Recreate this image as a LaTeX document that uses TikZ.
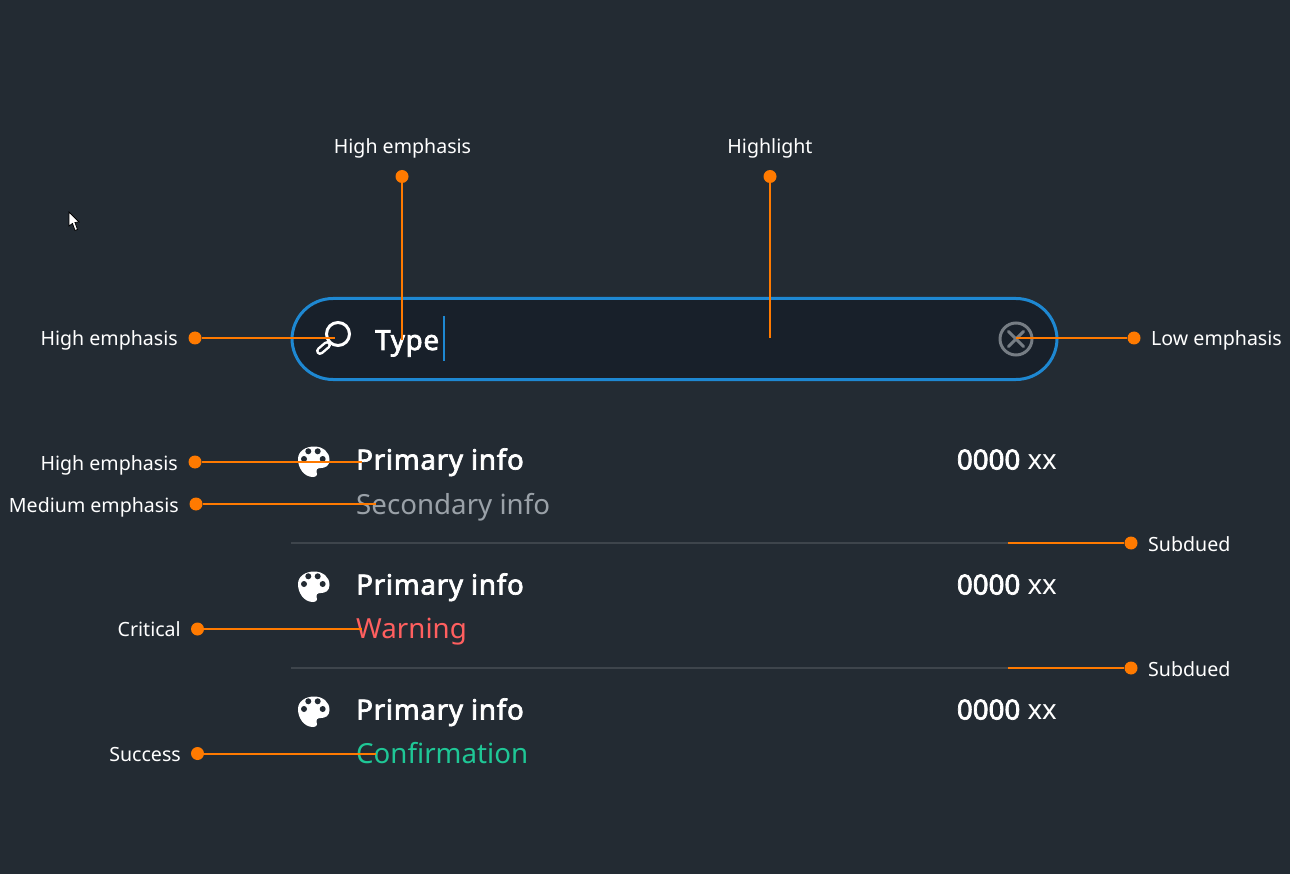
\documentclass[tikz,border=0pt]{standalone}
\usepackage{fontspec}
\setmainfont{Noto Sans}
\newfontfamily\strongfont{Noto Sans}[FakeBold=2.6,LetterSpace=2.7]
\newfontfamily\digitfont{Noto Sans}[FakeBold=2.6]
\usetikzlibrary{positioning,shapes}

\definecolor{bgdark}{HTML}{232B33}
\definecolor{fielddark}{HTML}{18202A}
\definecolor{fieldblue}{HTML}{1E88D2}
\definecolor{callout}{HTML}{FF7A00}
\definecolor{subdued}{HTML}{3E454C}
\definecolor{lowgray}{HTML}{767D84}
\definecolor{secondgray}{HTML}{9AA1A8}
\definecolor{warnred}{HTML}{FF5F5F}
\definecolor{okgreen}{HTML}{1FC796}

\tikzset{
  dot/.style={circle, fill=callout, inner sep=0pt, minimum size=13pt},
  lead/.style={draw=callout, line width=2pt},
  tag/.style={text=white, inner sep=0pt, font=\fontsize{19.6}{24}\selectfont},
  primary/.style={text=white, inner sep=0pt, font=\fontsize{27.7}{32}\selectfont\strongfont},
  amount/.style={text=white, inner sep=0pt, font=\fontsize{27.7}{32}\selectfont},
  secondary/.style={inner sep=0pt, font=\fontsize{27.7}{32}\selectfont},
  rule/.style={draw=subdued, line width=2pt}
}

\newcommand{\palette}[2]{
  \fill[white] (#1-16,#2-1) .. controls (#1-16,#2-9) and (#1-8,#2-13.5) .. (#1,#2-13.5)
    .. controls (#1+9,#2-13.5) and (#1+15.5,#2-8) .. (#1+15.5,#2+0)
    .. controls (#1+15.5,#2+6) and (#1+11,#2+8) .. (#1+7,#2+8)
    .. controls (#1+3,#2+8) and (#1+1.5,#2+10) .. (#1+2.5,#2+12)
    .. controls (#1+4,#2+15) and (#1+2,#2+17) .. (#1-1,#2+17)
    .. controls (#1-10,#2+17) and (#1-16,#2+8) .. (#1-16,#2-1) -- cycle;
  \fill[bgdark] (#1-5.7,#2-8.7) circle (3) (#1+3.7,#2-8.7) circle (3)
    (#1-10,#2-1) circle (3) (#1+8.7,#2-1) circle (3);
}

\begin{document}
\begin{tikzpicture}[x=1pt, y=-1pt]
  \useasboundingbox (0,0) rectangle (1290,874);
  \fill[bgdark] (0,0) rectangle (1290,874);

  % pointer
  \fill[white, draw=black, line width=0.8pt] (69,212) -- (69,226) -- (72.5,223.5) -- (75,230.5) -- (77.5,229.5) -- (75,222.5) -- (79,222) -- cycle;

  % search field
  \node [rectangle, rounded corners=41pt, draw=fieldblue, fill=fielddark, line width=3pt, minimum width=765pt, minimum height=81pt, inner sep=0pt] (field) at (674.5,339) {};
  \draw[white, line width=3pt] (338,334) circle (11.5);
  \draw[white, line width=3pt] (330,342) -- (327,345);
  \draw[white, line width=8pt, line cap=round] (327,345) -- (320,351);
  \draw[fielddark, line width=3pt, line cap=round] (327,345) -- (320,351);
  \node [primary, anchor=base west] (typed) at (375,350) {Type};
  \draw[fieldblue, line width=2pt] (444,316) -- (444,361);
  \draw[lowgray, line width=3pt] (1016,339) circle (16);
  \draw[lowgray, line width=3pt, line cap=round] (1008.5,331.5) -- (1023.5,346.5) (1023.5,331.5) -- (1008.5,346.5);

  % rows
  \palette{314}{460}
  \node [primary, anchor=base west] (prim1) at (356,469.5) {Primary info};
  \node [amount, anchor=base east] (val1) at (1057,469.5) {{\digitfont 0000} xx};
  \node [secondary, text=secondgray, anchor=base west] (sec1) at (356,514) {Secondary info};
  \draw[rule] (291,543) -- (1057,543);

  \palette{314}{585}
  \node [primary, anchor=base west] (prim2) at (356,594.5) {Primary info};
  \node [amount, anchor=base east] (val2) at (1057,594.5) {{\digitfont 0000} xx};
  \node [secondary, text=warnred, anchor=base west] (sec2) at (356,638.5) {Warning};
  \draw[rule] (291,668) -- (1057,668);

  \palette{314}{710}
  \node [primary, anchor=base west] (prim3) at (356,719.5) {Primary info};
  \node [amount, anchor=base east] (val3) at (1057,719.5) {{\digitfont 0000} xx};
  \node [secondary, text=okgreen, anchor=base west] (sec3) at (356,763.5) {Confirmation};

  % labels
  \node [tag, anchor=base] (ltop1) at (402.5,154) {High emphasis};
  \node [tag, anchor=base] (ltop2) at (770,154) {Highlight};
  \node [tag, anchor=base east] (lleft) at (178,346) {High emphasis};
  \node [tag, anchor=base west] (lright) at (1151,346) {Low emphasis};
  \node [tag, anchor=base east] (lrow1) at (178,470) {High emphasis};
  \node [tag, anchor=base east] (lrow2) at (179,512) {Medium emphasis};
  \node [tag, anchor=base east] (lrow3) at (181,636.5) {Critical};
  \node [tag, anchor=base east] (lrow4) at (181,761.5) {Success};
  \node [tag, anchor=base west] (lsub1) at (1148,551) {Subdued};
  \node [tag, anchor=base west] (lsub2) at (1148,676) {Subdued};

  % dots
  \node [dot] (dtop1) at (402,176.5) {};
  \node [dot] (dtop2) at (770,176.5) {};
  \node [dot] (dleft) at (195,338) {};
  \node [dot] (dright) at (1134,338) {};
  \node [dot] (drow1) at (195,462) {};
  \node [dot] (drow2) at (196,504) {};
  \node [dot] (drow3) at (197.5,629) {};
  \node [dot] (drow4) at (197.5,753.5) {};
  \node [dot] (dsub1) at (1131,543) {};
  \node [dot] (dsub2) at (1131,668) {};

  % free ends
  \coordinate (etop1) at (402,340);
  \coordinate (etop2) at (770,338);
  \coordinate (eleft) at (335,338);
  \coordinate (eright) at (1016,338);
  \coordinate (erow1) at (362,462);
  \coordinate (erow2) at (376,504);
  \coordinate (erow3) at (362,629);
  \coordinate (erow4) at (376,753.5);
  \coordinate (esub1) at (1008,543);
  \coordinate (esub2) at (1008,668);

  \draw[lead] (dtop1) -- (etop1);
  \draw[lead] (dtop2) -- (etop2);
  \draw[lead] (dleft) -- (eleft);
  \draw[lead] (dright) -- (eright);
  \draw[lead] (drow1) -- (erow1);
  \draw[lead] (drow2) -- (erow2);
  \draw[lead] (drow3) -- (erow3);
  \draw[lead] (drow4) -- (erow4);
  \draw[lead] (dsub1) -- (esub1);
  \draw[lead] (dsub2) -- (esub2);
\end{tikzpicture}
\end{document}
